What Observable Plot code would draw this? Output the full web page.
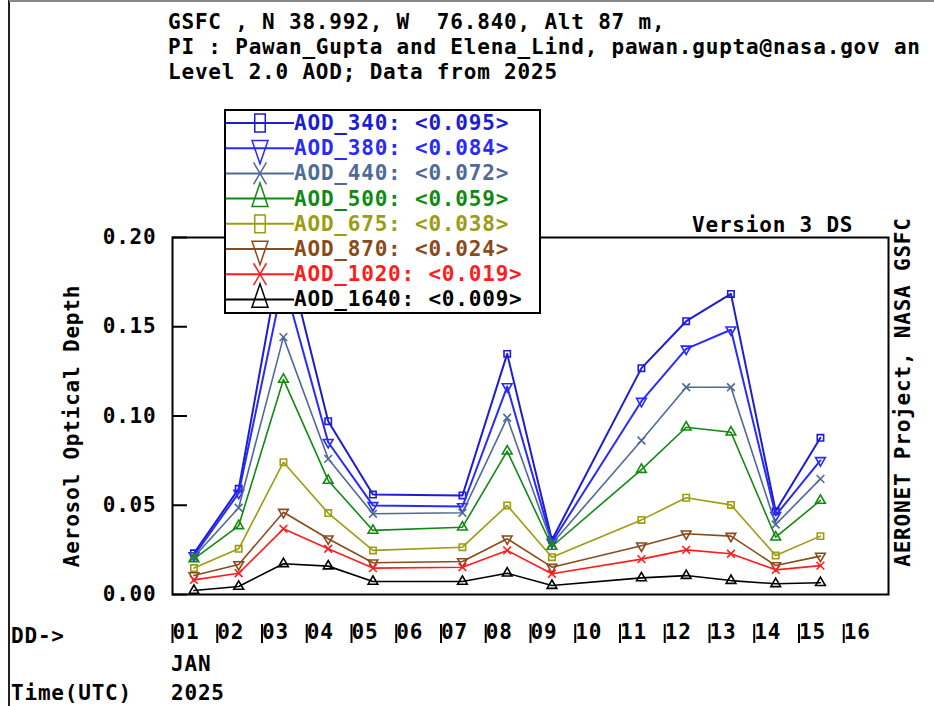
<!DOCTYPE html>
<html>
<head>
<meta charset="utf-8">
<script src="https://cdn.jsdelivr.net/npm/d3@7"></script>
<script src="https://cdn.jsdelivr.net/npm/@observablehq/plot@0.6"></script>
<style>
  html, body { margin: 0; padding: 0; background: #fff; }
  #wrap { position: relative; width: 934px; height: 706px; overflow: hidden; background: #fff; }
  #wrap svg.over { position: absolute; left: 0; top: 0; }
  #wrap svg.over text { white-space: pre; }
  #chart { position: absolute; left: 0; top: 0; }
</style>
</head>
<body>
<div id="wrap"><div id="chart"></div></div>
<script>
// ---- data ----
const days = [1, 2, 3, 4, 5, 7, 8, 9, 11, 12, 13, 14, 15];   // January 2025
const obsHourUTC = 11.5;                                      // typical measurement time of day
const tickDays = [1,2,3,4,5,6,7,8,9,10,11,12,13,14,15,16];
const yTicks = [0, 0.05, 0.10, 0.15, 0.20];

const aod340  = [0.0231, 0.0592, 0.198, 0.0971, 0.0560, 0.0555, 0.1348, 0.0306, 0.1268, 0.1531, 0.1684, 0.0467, 0.0878];
const aod380  = [0.0218, 0.0568, 0.176, 0.0853, 0.0499, 0.0493, 0.1165, 0.0293, 0.1083, 0.1376, 0.1483, 0.0443, 0.0751];
const aod440  = [0.0210, 0.0486, 0.1442, 0.0760, 0.0452, 0.0458, 0.0990, 0.0284, 0.0863, 0.1161, 0.1161, 0.0392, 0.0648];
const aod500  = [0.0200, 0.0385, 0.1205, 0.0639, 0.0359, 0.0377, 0.0803, 0.0269, 0.0700, 0.0937, 0.0909, 0.0321, 0.0527];
const aod675  = [0.0148, 0.0256, 0.0741, 0.0456, 0.0247, 0.0265, 0.0499, 0.0209, 0.0418, 0.0542, 0.0502, 0.0218, 0.0327];
const aod870  = [0.0106, 0.0168, 0.0461, 0.0312, 0.0178, 0.0185, 0.0312, 0.0153, 0.0273, 0.0340, 0.0327, 0.0162, 0.0215];
const aod1020 = [0.0082, 0.0119, 0.0368, 0.0256, 0.0148, 0.0153, 0.0247, 0.0116, 0.0198, 0.0250, 0.0228, 0.0138, 0.0162];
const aod1640 = [0.0022, 0.0045, 0.0172, 0.0159, 0.0073, 0.0073, 0.0119, 0.0050, 0.0093, 0.0106, 0.0078, 0.0060, 0.0066];

const seriesNames = ["AOD_340", "AOD_380", "AOD_440", "AOD_500", "AOD_675", "AOD_870", "AOD_1020", "AOD_1640"];
const seriesMeans = ["0.095", "0.084", "0.072", "0.059", "0.038", "0.024", "0.019", "0.009"];
const seriesColors = ["#1c1cd4", "#2a2aff", "#4f6a98", "#118a11", "#9c9c10", "#8a4a1a", "#ff1c1c", "#000000"];
const seriesSymbols = ["square", "triangleDown", "times", "triangle", "square", "triangleDown", "times", "triangle"];
const seriesValues = [aod340, aod380, aod440, aod500, aod675, aod870, aod1020, aod1640];

const titleLines = [
  "GSFC , N 38.992, W  76.840, Alt 87 m,",
  "PI : Pawan_Gupta and Elena_Lind, pawan.gupta@nasa.gov an",
  "Level 2.0 AOD; Data from 2025"
];

// ---- build ----
const FONT = "'DejaVu Sans Mono', 'Liberation Mono', monospace";
const dateOf = d => new Date(Date.UTC(2025, 0, d, 0, obsHourUTC * 60));
const series = seriesNames.map((name, i) => ({
  name, color: seriesColors[i], symbol: seriesSymbols[i],
  rows: days.map((d, j) => ({date: dateOf(d), value: seriesValues[i][j]}))
}));

const marks = [];
series.forEach((s, i) => {
  marks.push(Plot.line(s.rows, {x: "date", y: "value", stroke: s.color, strokeWidth: i < 2 ? 2 : 1.6}));
  const sym = s.symbol === "triangleDown" ? "triangle" : s.symbol;
  marks.push(Plot.dot(s.rows, {x: "date", y: "value", stroke: s.color, fill: "none", strokeWidth: 1.6,
    symbol: sym, r: 3.6, rotate: s.symbol === "triangleDown" ? 180 : 0}));
});

const tickDates = tickDays.map(d => new Date(Date.UTC(2025, 0, d)));

const chart = Plot.plot({
  width: 934, height: 706,
  marginLeft: 172, marginRight: 46, marginTop: 237, marginBottom: 112,
  style: {fontFamily: FONT, fontSize: "21px", fontWeight: "bold", letterSpacing: "0.8px", background: "transparent", color: "#000"},
  x: {type: "utc", domain: [new Date(Date.UTC(2025, 0, 1)), new Date(Date.UTC(2025, 0, 17))], label: null},
  y: {domain: [0, 0.2], label: null},
  marks: [
    // y tick labels
    Plot.axisY({ticks: yTicks, tickSize: 0, tickPadding: 16, tickFormat: d3.format(".2f"), label: null}),
    // inward y tick marks
    Plot.axisY({ticks: yTicks, tickSize: 15, dx: 15, tickFormat: () => "", label: null, strokeWidth: 2}),
    // x tick labels (day of month)
    Plot.axisX({ticks: tickDates, tickSize: 0, tickPadding: 30, textAnchor: "start", dx: 0, tickFormat: d3.utcFormat("%d"), label: null}),
    // little bar marking each day start
    Plot.axisX({ticks: tickDates, tickSize: 19, dy: 30, tickFormat: () => "", label: null, strokeWidth: 2}),
    ...marks,
    Plot.frame({stroke: "#000", strokeWidth: 2})
  ]
});
document.getElementById("chart").appendChild(chart);

// ---- overlay texts, legend, borders ----
const over = d3.select("#wrap").append("svg").attr("class", "over")
  .attr("width", 934).attr("height", 706)
  .style("font-family", FONT).style("font-weight", "bold").style("font-size", "21px").style("letter-spacing", "0.8px");

over.append("line").attr("x1", 9).attr("x2", 9).attr("y1", 0).attr("y2", 706).attr("stroke", "#222").attr("stroke-width", 2);
over.append("line").attr("x1", 9).attr("x2", 934).attr("y1", 1).attr("y2", 1).attr("stroke", "#888").attr("stroke-width", 2);

titleLines.forEach((t, i) => {
  over.append("text").attr("x", 168).attr("y", 29 + i * 25).attr("fill", "#000").attr("xml:space", "preserve").text(t);
});
over.append("text").attr("x", 692).attr("y", 232).text("Version 3 DS");
over.append("text").attr("transform", "translate(72,426) rotate(-90)").attr("text-anchor", "middle")
  .attr("dominant-baseline", "central").text("Aerosol Optical Depth");
over.append("text").attr("transform", "translate(903,392) rotate(-90)").attr("text-anchor", "middle")
  .attr("dominant-baseline", "central").text("AERONET Project, NASA GSFC");
over.append("text").attr("x", 11).attr("y", 643).text("DD->");
over.append("text").attr("x", 171).attr("y", 671).text("JAN");
over.append("text").attr("x", 11).attr("y", 700).text("Time(UTC)");
over.append("text").attr("x", 171).attr("y", 700).text("2025");

// legend
const lg = over.append("g");
lg.append("rect").attr("x", 225).attr("y", 110).attr("width", 315).attr("height", 203)
  .attr("fill", "#fff").attr("stroke", "#000").attr("stroke-width", 2);
const symMap = {square: d3.symbolSquare, triangle: d3.symbolTriangle, triangleDown: d3.symbolTriangle, times: d3.symbolTimes};
series.forEach((s, i) => {
  const y = 123 + i * 25.2;
  lg.append("line").attr("x1", 226).attr("x2", 294).attr("y1", y).attr("y2", y)
    .attr("stroke", s.color).attr("stroke-width", 2);
  const rot = s.symbol === "triangleDown" ? " rotate(180)" : "";
  lg.append("path").attr("d", d3.symbol(symMap[s.symbol], 110)())
    .attr("transform", `translate(260,${y}) scale(1,1.7)${rot}`)
    .attr("fill", "none").attr("stroke", s.color).attr("stroke-width", 1.5)
    .attr("vector-effect", "non-scaling-stroke");
  lg.append("text").attr("x", 294).attr("y", y).attr("dominant-baseline", "central")
    .attr("fill", s.color).text(`${s.name}: <${seriesMeans[i]}>`);
});
</script>
</body>
</html>
